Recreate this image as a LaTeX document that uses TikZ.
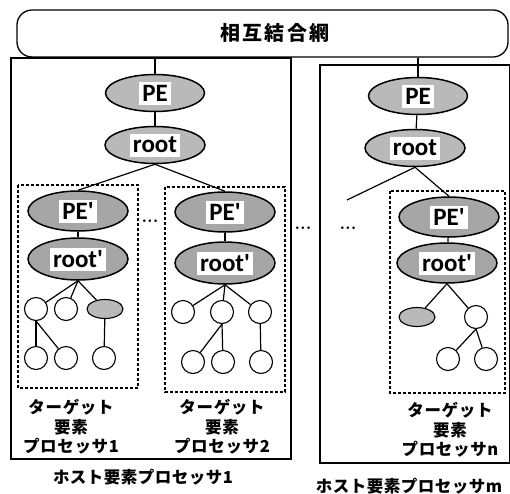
\documentclass[tikz,border=0pt]{standalone}
\usepackage{fontspec}
\usetikzlibrary{shapes.geometric}
\newfontfamily\latf{Carlito}
\newfontfamily\jpf{Noto Sans CJK JP}
\begin{document}
\begin{tikzpicture}[x=1pt,y=-1pt,
  hostbox/.style={draw,line width=1.4pt},
  tgtbox/.style={draw,line width=1.2pt,dash pattern=on 3pt off 2pt},
  ell/.style={ellipse,draw,line width=1.5pt,fill=gray!55,inner sep=0pt,
     minimum width=99pt,minimum height=37pt},
  ellp/.style={ell,fill=gray!70,minimum width=100pt,minimum height=40pt},
  wtxt/.style={fill=white,inner xsep=3pt,inner ysep=0pt,minimum height=23pt,
     font=\latf\bfseries\fontsize{25}{25}\selectfont},
  leaf/.style={circle,draw,line width=1.1pt,minimum size=23pt,inner sep=0pt},
  leaff/.style={ellipse,draw,line width=1.1pt,fill=gray!55,minimum width=36pt,minimum height=19pt,inner sep=0pt},
  conn/.style={line width=1.2pt},
  tlabel/.style={align=center,font=\jpf\bfseries\fontsize{16.5}{19.5}\selectfont\addfontfeature{LetterSpace=4}},
  hlabel/.style={font=\jpf\bfseries\fontsize{16.5}{19}\selectfont\addfontfeature{LetterSpace=3}},
  dots/.style={font=\bfseries\fontsize{18}{18}\selectfont}
]
\useasboundingbox (0,0) rectangle (510,493);
% interconnection network
\node[draw,line width=1.3pt,rounded corners=15pt,minimum width=491pt,minimum height=47pt] (net) at (262.5,33.5) {};
\node[font=\jpf\bfseries\fontsize{20}{20}\selectfont\addfontfeature{LetterSpace=12}] (nettxt) at (275,33) {相互結合網};
% host boxes
\draw[hostbox] (11,58) rectangle (291,459);
\draw[hostbox] (320,65) rectangle (509.3,463);
\node[hlabel] (h1) at (143,477) {ホスト要素プロセッサ1};
\node[hlabel] (h2) at (409,486) {ホスト要素プロセッサm};
% host 1
\node[ell] (pe1) at (155,93) {};
\node[wtxt] (pe1t) at (pe1) {PE};
\node[ell,minimum width=100pt] (root1) at (155,145) {};
\node[wtxt] (root1t) at (root1) {root};
\draw[conn] (net.south -| pe1) -- (pe1);
\draw[conn] (pe1) -- (root1);
% target 1
\draw[tgtbox] (18,185) rectangle (138,388);
\node[ellp] (pep1) at (78,211) {};
\node[wtxt] (pep1t) at (pep1) {PE'};
\node[ellp,minimum height=42pt] (rootp1) at (78,259) {};
\node[wtxt] (rootp1t) at (rootp1) {root'};
\node[leaf] (a1) at (36,309) {};
\node[leaf] (a2) at (66,309) {};
\node[leaff] (a3) at (105,309) {};
\node[leaf] (a4) at (36,358) {};
\node[leaf] (a5) at (66,358) {};
\node[leaf] (a6) at (104,358) {};
\draw[conn] (pep1) -- (rootp1);
\draw[conn] (rootp1.south) -- (a1);
\draw[conn] (rootp1.south) -- (a2);
\draw[conn] (rootp1.south) -- (a3);
\draw[conn] (a1.south) -- (a4);
\draw[conn] (a1.south) -- (a5);
\draw[conn] (a3) -- (a6);
\node[tlabel] (t1) at (71,427) {ターゲット\\要素\\プロセッサ1};
% target 2
\draw[tgtbox] (165,187) rectangle (285,392);
\node[ellp] (pep2) at (225,212) {};
\node[wtxt] (pep2t) at (pep2) {PE'};
\node[ellp,minimum height=42pt] (rootp2) at (225,263) {};
\node[wtxt] (rootp2t) at (rootp2) {root'};
\node[leaf] (b1) at (183,312) {};
\node[leaf] (b2) at (222,312) {};
\node[leaf] (b3) at (260,312) {};
\node[leaf] (b4) at (193,362) {};
\node[leaf] (b5) at (223,362) {};
\node[leaf] (b6) at (261,362) {};
\draw[conn] (pep2) -- (rootp2);
\draw[conn] (rootp2.south) -- (b1);
\draw[conn] (rootp2.south) -- (b2);
\draw[conn] (rootp2.south) -- (b3);
\draw[conn] (b2.south) -- (b4);
\draw[conn] (b2.south) -- (b5);
\draw[conn] (b3) -- (b6);
\node[tlabel] (t2) at (222,427) {ターゲット\\要素\\プロセッサ2};
\draw[conn] (root1.south) -- (pep1.north);
\draw[conn] (root1.south) -- (pep2.north);
\node[dots] (d1) at (150,221) {...};
% host m
\node[ell] (pe2) at (418,96) {};
\node[wtxt] (pe2t) at (pe2) {PE};
\node[ell,minimum width=100pt] (root2) at (415,148) {};
\node[wtxt] (root2t) at (root2) {root};
\draw[conn] (net.south -| pe2) -- (pe2);
\draw[conn] (pe2) -- (root2);
\coordinate (dang) at (347,200);
\draw[tgtbox] (390,191) rectangle (505,393);
\node[ellp] (pepn) at (449,217) {};
\node[wtxt] (pepnt) at (pepn) {PE'};
\node[ellp,minimum height=40pt] (rootpn) at (447,263) {};
\node[wtxt] (rootpnt) at (rootpn) {root'};
\draw[conn] (root2.south) -- (dang);
\draw[conn] (root2.south) -- (pepn.north);
\draw[conn] (pepn) -- (rootpn);
\node[leaff] (c1) at (417,317) {};
\node[leaf] (c2) at (476,317) {};
\node[leaf] (c3) at (448,359) {};
\node[leaf] (c4) at (486,359) {};
\draw[conn] (rootpn.south) -- (c1);
\draw[conn] (rootpn.south) -- (c2);
\draw[conn] (c2.south) -- (c3);
\draw[conn] (c2.south) -- (c4);
\node[tlabel] (tn) at (450,430) {ターゲット\\要素\\プロセッサn};
\node[dots] (d2) at (303,228) {...};
\node[dots] (d3) at (348,228) {...};
\end{tikzpicture}
\end{document}
